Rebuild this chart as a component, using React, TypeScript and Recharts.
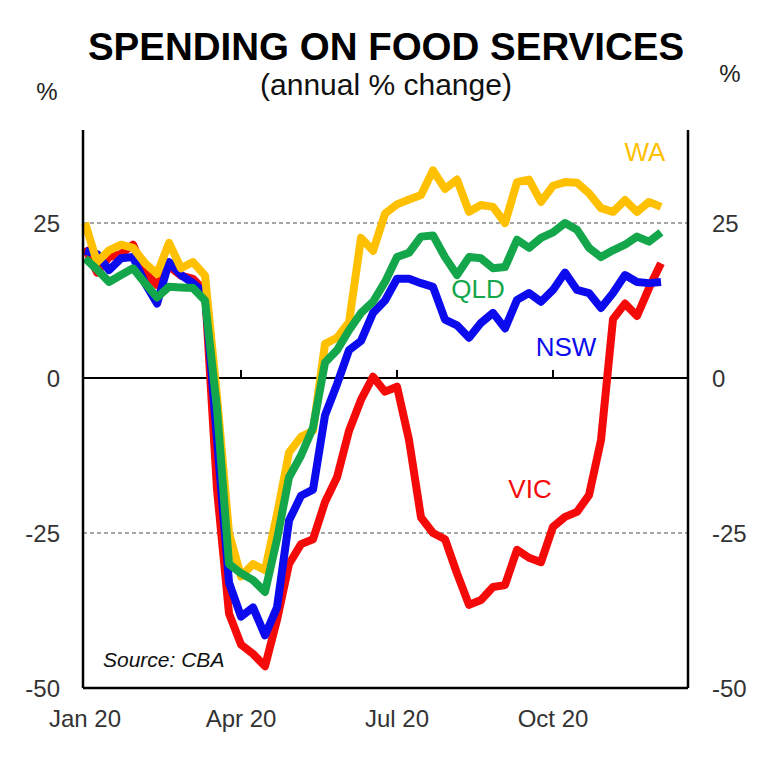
import React from 'react';
import { LineChart, Line, XAxis, YAxis, ReferenceLine } from 'recharts';

// weekly readings, week 0 = first week of Jan 2020
const nsw = [20.5, 20, 17.4, 19.3, 19.5, 15.3, 12, 18.7, 16.6, 15.3, 13.7, -10, -33, -38.5, -37, -41.5, -37, -23, -19, -18, -6, -1, 4.5, 6, 10.5, 12.5, 16, 16, 15.3, 14.7, 9.4, 8.5, 6.5, 8.9, 10.5, 8, 12.6, 13.7, 12.3, 14.2, 17, 14.2, 13.7, 11.3, 13.7, 16.6, 15.5, 15.3, 15.5];
const vic = [21, 17, 19.5, 20, 21.5, 17, 15, 18, 16.5, 16, 14, -18, -38, -43, -44.5, -46.5, -39, -30, -26.8, -26, -20, -16, -8.5, -3.5, 0.2, -2.2, -1.4, -10, -22.5, -25, -26, -31.5, -36.6, -35.8, -33.7, -33.4, -27.7, -29, -29.7, -24, -22.4, -21.6, -18.9, -10, 9.5, 12, 10, 14.5, 18.5];
const qld = [19.3, 17.5, 15.5, 16.6, 17.7, 15.3, 13, 14.7, 14.6, 14.5, 12.5, -5, -30, -31.5, -32.6, -34.5, -26, -16, -12.5, -8, 2.5, 4.5, 7.7, 10.5, 12.3, 15.5, 19.5, 20.2, 22.8, 23, 19.5, 16.6, 19.5, 19.3, 17.7, 17.9, 22.3, 21, 22.6, 23.5, 25, 23.9, 21, 19.5, 20.6, 21.5, 22.8, 22, 23.5];
const wa = [25, 18.7, 20.6, 21.5, 21, 18.5, 16.8, 21.8, 17.7, 18.7, 16.5, -3, -25, -32, -30, -31, -22, -12, -9.5, -8.5, 5.5, 6.5, 9, 22.6, 20.5, 26.5, 28, 28.8, 29.5, 33.5, 30.5, 32, 26.8, 27.9, 27.6, 25, 31.6, 32, 28.4, 31, 31.6, 31.5, 29.8, 27.4, 26.8, 28.7, 26.8, 28.4, 27.6];

const monthTicks = [0, 13, 26, 39];
const monthLabels = ['Jan 20', 'Apr 20', 'Jul 20', 'Oct 20'];
const yTicks = [-50, -25, 0, 25];

const data = nsw.map((v, i) => ({ week: i, nsw: v, vic: vic[i], qld: qld[i], wa: wa[i] }));

const font = '"Liberation Sans", Arial, Helvetica, sans-serif';
const tickStyle = { fill: '#333', fontSize: 24, fontFamily: font };
const frame = { stroke: '#000', strokeWidth: 2.5 };

export default function App() {
  return (
    <div style={{ position: 'absolute', left: 0, top: 0, width: 768, height: 768, background: '#fff' }}>
      <LineChart width={768} height={768} data={data} margin={{ top: 130, right: 0, bottom: 0, left: 0 }}>
        <XAxis
          dataKey="week"
          type="number"
          domain={[-0.17, 50.25]}
          ticks={monthTicks}
          tickFormatter={(v) => monthLabels[monthTicks.indexOf(v)]}
          height={80}
          tickSize={0}
          tickMargin={22}
          tick={tickStyle}
          axisLine={frame}
          interval={0}
        />
        <XAxis xAxisId="top" orientation="top" dataKey="week" type="number" domain={[-0.17, 50.25]} height={0} tick={false} tickLine={false} axisLine={frame} />
        <YAxis
          type="number"
          domain={[-50, 40]}
          ticks={yTicks}
          width={83}
          tickSize={0}
          tickMargin={23}
          tick={tickStyle}
          axisLine={frame}
          interval={0}
        />
        <YAxis
          yAxisId="right"
          orientation="right"
          type="number"
          domain={[-50, 40]}
          ticks={yTicks}
          width={80}
          tickSize={0}
          tickMargin={24}
          tick={tickStyle}
          axisLine={frame}
          interval={0}
        />
        <ReferenceLine y={25} stroke="#888" strokeDasharray="4 3" strokeWidth={1.5} />
        <ReferenceLine y={-25} stroke="#888" strokeDasharray="4 3" strokeWidth={1.5} />
        <ReferenceLine y={0} stroke="#000" strokeWidth={2} />
        {monthTicks.slice(1).map((t) => (
          <ReferenceLine key={t} segment={[{ x: t, y: 0 }, { x: t, y: 1.3 }]} stroke="#000" strokeWidth={2} />
        ))}
        <Line dataKey="vic" stroke="#F50A0A" strokeWidth={8} dot={false} strokeLinejoin="round" isAnimationActive={false} />
        <Line dataKey="nsw" stroke="#0B0BEE" strokeWidth={8} dot={false} strokeLinejoin="round" isAnimationActive={false} />
        <Line dataKey="wa" stroke="#FFC000" strokeWidth={8} dot={false} strokeLinejoin="round" isAnimationActive={false} />
        <Line dataKey="qld" yAxisId="right" stroke="#14A64A" strokeWidth={8} dot={false} strokeLinejoin="round" isAnimationActive={false} />
      </LineChart>
      <svg width={768} height={768} style={{ position: 'absolute', left: 0, top: 0, pointerEvents: 'none' }}>
        <text x={386} y={60} textAnchor="middle" fontFamily={font} fontWeight="bold" fontSize={38.5} fill="#000">SPENDING ON FOOD SERVICES</text>
        <text x={386} y={95} textAnchor="middle" fontFamily={font} fontSize={30} fill="#111">(annual % change)</text>
        <text x={47} y={100} textAnchor="middle" fontFamily={font} fontSize={24} fill="#222">%</text>
        <text x={730} y={82} textAnchor="middle" fontFamily={font} fontSize={24} fill="#222">%</text>
        <text x={645} y={161} textAnchor="middle" fontFamily={font} fontSize={26} fill="#FFC000">WA</text>
        <text x={478} y={298} textAnchor="middle" fontFamily={font} fontSize={26} fill="#14A64A">QLD</text>
        <text x={566} y={356} textAnchor="middle" fontFamily={font} fontSize={26} fill="#0B0BEE">NSW</text>
        <text x={530} y={498} textAnchor="middle" fontFamily={font} fontSize={26} fill="#F50A0A">VIC</text>
        <text x={103} y={667} fontFamily={font} fontStyle="italic" fontSize={21} fill="#111">Source: CBA</text>
      </svg>
    </div>
  );
}
